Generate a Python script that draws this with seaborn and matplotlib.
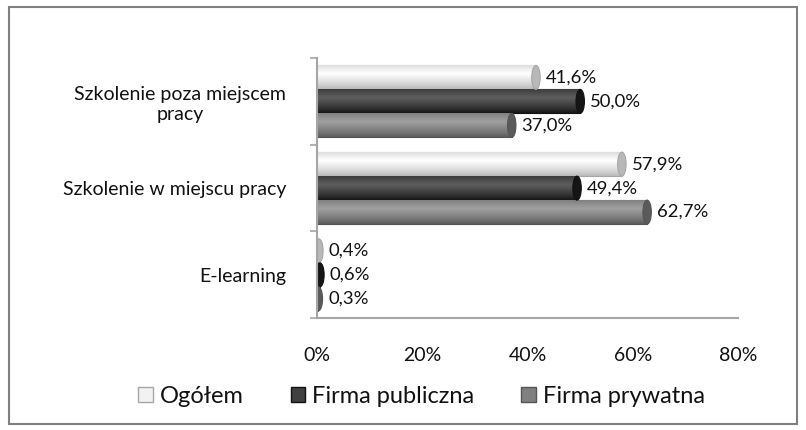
import matplotlib
matplotlib.use("Agg")
import matplotlib.pyplot as plt
import seaborn as sns
import pandas as pd
import numpy as np
from matplotlib.patches import Rectangle, Patch, Ellipse
from matplotlib.ticker import FixedLocator, PercentFormatter
from matplotlib.colors import LinearSegmentedColormap

categories = ["Szkolenie poza miejscem\npracy", "Szkolenie w miejscu pracy", "E-learning"]
series = ["Ogółem", "Firma publiczna", "Firma prywatna"]
ogolem = [41.6, 57.9, 0.4]
publiczna = [50.0, 49.4, 0.6]
prywatna = [37.0, 62.7, 0.3]
xticks = [0, 20, 40, 60, 80]

colors = ["#f2f2f2", "#404040", "#808080"]
edges = ["#a6a6a6", "#111111", "#555555"]
# cylinder shading: (edge colour, highlight colour)
shades = [("#b8b8b8", "#ffffff"), ("#151515", "#5e5e5e"), ("#5a5a5a", "#a0a0a0")]

rows = []
for s, vals in zip(series, [ogolem, publiczna, prywatna]):
    for c, v in zip(categories, vals):
        rows.append({"kategoria": c, "seria": s, "wartosc": v})
df = pd.DataFrame(rows)

sns.set_theme(style="white")
plt.rcParams["font.family"] = ["Lato", "DejaVu Sans"]

fig = plt.figure(figsize=(8.06, 4.30), dpi=100)
ax = fig.add_axes([0.393, 0.26, 0.523, 0.605])

sns.barplot(data=df, y="kategoria", x="wartosc", hue="seria", order=categories,
            hue_order=series, palette=colors, orient="h", width=0.83, ax=ax,
            errorbar=None, legend=False)

ax.set_xlim(0, 80)
ax.set_ylim(2.5, -0.5)

t = np.linspace(0, 1, 64)
profile = np.clip(1 - np.abs(t - 0.35) / 0.65, 0, 1) ** 0.8
grad = profile[:, None]

for cont, ec, vals, (c0, c1) in zip(ax.containers, edges,
                                     [ogolem, publiczna, prywatna], shades):
    cmap = LinearSegmentedColormap.from_list("cyl", [c0, c1])
    for bar in cont:
        x0, y0 = bar.get_x(), bar.get_y()
        w, h = bar.get_width(), bar.get_height()
        bar.set_edgecolor(ec)
        bar.set_linewidth(0.8)
        im = ax.imshow(grad, cmap=cmap, vmin=0, vmax=1, aspect="auto",
                       extent=(x0, x0 + w, y0 + h, y0), zorder=bar.get_zorder() + 0.1,
                       interpolation="bilinear")
        im.set_clip_path(bar)
        cap = Ellipse((x0 + w, y0 + h / 2), 1.6, h, facecolor=c0, edgecolor=ec,
                      linewidth=0.8, zorder=bar.get_zorder() + 0.2)
        ax.add_patch(cap)
    ax.bar_label(cont, labels=[f"{v:.1f}%".replace(".", ",") for v in vals],
                 padding=7, fontsize=13.3, color="#111111")

ax.set_xlim(0, 80)
ax.set_ylim(2.5, -0.5)
ax.xaxis.set_major_locator(FixedLocator(xticks))
ax.xaxis.set_major_formatter(PercentFormatter(decimals=0))
ax.set_xlabel("")
ax.set_ylabel("")
for sp in ["top", "right"]:
    ax.spines[sp].set_visible(False)
for sp in ["left", "bottom"]:
    ax.spines[sp].set_color("#a6a6a6")
    ax.spines[sp].set_linewidth(1.5)

ax.tick_params(axis="x", which="major", direction="out", length=5, width=1.2,
               color="#a6a6a6", labelsize=14, pad=16, labelcolor="#111111")
ax.tick_params(axis="y", which="major", length=0, labelsize=14, pad=22,
               labelcolor="#111111")
ax.yaxis.set_minor_locator(FixedLocator([-0.5, 0.5, 1.5, 2.5]))
ax.tick_params(axis="y", which="minor", direction="out", length=5, width=1.2,
               color="#a6a6a6", left=True)
for lab in ax.get_yticklabels():
    lab.set_multialignment("center")

handles = [Patch(facecolor=c, edgecolor=e, label=s) for c, e, s in zip(colors, edges, series)]
fig.legend(handles=handles, loc="center", bbox_to_anchor=(0.523, 0.079), ncol=3,
           frameon=False, fontsize=17, handlelength=0.6, handleheight=0.6,
           handletextpad=0.3, columnspacing=2.0, labelcolor="#111111")

fig.patches.append(Rectangle((0.011, 0.014), 0.978, 0.97, transform=fig.transFigure,
                             fill=False, edgecolor="#808080", linewidth=1.5))

fig.savefig("out.png", dpi=100)
